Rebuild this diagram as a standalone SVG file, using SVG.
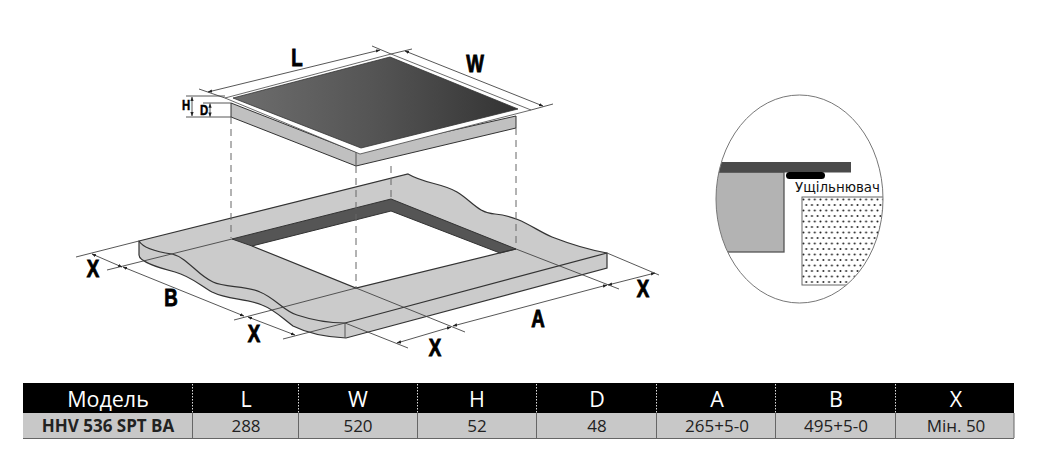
<svg xmlns="http://www.w3.org/2000/svg" width="1044" height="472" viewBox="0 0 1044 472">
<style>
.dim{fill:none;stroke:#444;stroke-width:.9}
.dash{fill:none;stroke:#666;stroke-width:1;stroke-dasharray:7 5}
.edge{fill:none;stroke:#333;stroke-width:1.2}
.big{font-family:"Liberation Sans",Arial,sans-serif;font-weight:700;font-size:24px;fill:#000;stroke:#000;stroke-width:.9;text-anchor:middle}
.sm{font-size:14.500px;stroke-width:.5}
.th{font-family:"Open Sans",sans-serif;font-size:21.500px;fill:#fff;text-anchor:middle}
.td{font-family:"Open Sans",sans-serif;font-size:17px;fill:#222;text-anchor:middle}
.sep{stroke:#666;stroke-width:1}
.sepw{stroke:#ddd;stroke-width:1;stroke-dasharray:1.5 1.5}
</style>
<defs>
<marker id="arr" viewBox="0 0 6 6" refX="5.5" refY="3" markerWidth="5" markerHeight="5" orient="auto-start-reverse"><path d="M0 .8L6 3L0 5.200z" fill="#222"/></marker>
<linearGradient id="glass" x1="0" y1="0" x2="1" y2="0"><stop offset="0" stop-color="#6e6e6e"/><stop offset=".5" stop-color="#545454"/><stop offset="1" stop-color="#333"/></linearGradient>
<pattern id="dots" width="5.700" height="11" patternUnits="userSpaceOnUse" x="802" y="197"><circle cx="1.400" cy="2.500" r="1" fill="#222"/><circle cx="4.250" cy="8" r="1" fill="#222"/></pattern>
<clipPath id="oval"><ellipse cx="799.500" cy="199" rx="83.500" ry="104"/></clipPath>
</defs>

<g id="counter">
<path fill="#cbcbcb" stroke="none" d="M139 241L408 174C425 184 442 183 457 192C472 201 478 213 495 214C520 216 535 230 552 237C570 244 590 250 607 253V268L346 338C325 337 305 332 293 326C282 318 275 310 262 305C245 298 228 300 212 292C200 285 190 276 175 272C160 268 139 262 139 255Z"/>
<path fill="#fff" d="M252 246L391 211L500 253L356 288Z"/>
<path fill="#555" stroke="#333" d="M232 239L391 199L516 249L500 253L391 211L252 246Z"/>
<path class="edge" d="M139 241L408 174C425 184 442 183 457 192C472 201 478 213 495 214C520 216 535 230 552 237C570 244 590 250 607 253V268L346 338C325 337 305 332 293 326C282 318 275 310 262 305C245 298 228 300 212 292C200 285 190 276 175 272C160 268 139 262 139 255Z"/>
<path class="edge" d="M139 241C143 248 158 252 172 254C188 258 197 275 213 282C225 288 245 285 260 292C275 298 285 312 297 315C312 320 330 323 345 323L607 253"/>
<path class="edge" d="M252 246L356 288L516 249"/>
<path d="M345 323V338" fill="none" stroke="#555"/>
</g>

<g id="hob">
<path fill="#c0c0c0" stroke="#333" d="M231 103V117L356 166L516 128V116L356 152Z"/>
<path d="M356 152V166" stroke="#555" fill="none"/>
<path fill="#fff" stroke="#444" stroke-width=".8" d="M225 98L391 54L531 110L360 154Z"/>
<path fill="url(#glass)" stroke="#333" stroke-width=".8" d="M233 98L390 57L518 109L361 148Z"/>
</g>

<g id="connectors">
<path class="dash" d="M231 117V238M356 166V288M391 166V200M516 128V248"/>
<path class="dim" d="M199 89L225 98M372 46L391 54M391 54L412 49M531 110L553 104"/>
<path class="dim" marker-start="url(#arr)" marker-end="url(#arr)" d="M208 92L380 50"/>
<path class="dim" marker-start="url(#arr)" marker-end="url(#arr)" d="M405 51L543 106"/>
<path class="dim" d="M186 96L225 96M186 117L231 117M203 103L231 103"/>
<path class="dim" marker-start="url(#arr)" marker-end="url(#arr)" d="M192 97V116"/>
<path class="dim" marker-start="url(#arr)" marker-end="url(#arr)" d="M210 103.500V116.500"/>
<path class="dim" d="M139 241L76 257M232 239L107 270M356 288L234 320M345 323L283 339"/>
<path class="dim" d="M516 249L619 289M356 288L465 332M607 253L659 275M345 323L408 348"/>
<path class="dim" marker-start="url(#arr)" marker-end="url(#arr)" d="M92 254L122 267"/>
<path class="dim" marker-start="url(#arr)" marker-end="url(#arr)" d="M123 267L244 316"/>
<path class="dim" marker-start="url(#arr)" marker-end="url(#arr)" d="M248 317L295 335"/>
<path class="dim" marker-start="url(#arr)" marker-end="url(#arr)" d="M397 343L451 327"/>
<path class="dim" marker-start="url(#arr)" marker-end="url(#arr)" d="M453 326L607 285"/>
<path class="dim" marker-start="url(#arr)" marker-end="url(#arr)" d="M608 285L655 273"/>
</g>

<g id="labels">
<text class="big" transform="translate(297 66) scale(.78 1)">L</text>
<text class="big" transform="translate(475 72) scale(.78 1)">W</text>
<text class="big sm" transform="translate(186 110) scale(.78 1)">H</text>
<text class="big sm" transform="translate(204 115) scale(.78 1)">D</text>
<text class="big" transform="translate(93 277) scale(.78 1)">X</text>
<text class="big" transform="translate(171 306) scale(.78 1)">B</text>
<text class="big" transform="translate(254 342) scale(.78 1)">X</text>
<text class="big" transform="translate(435 356) scale(.78 1)">X</text>
<text class="big" transform="translate(538 327) scale(.78 1)">A</text>
<text class="big" transform="translate(643 297) scale(.78 1)">X</text>
</g>

<g id="detail">
<g clip-path="url(#oval)">
<rect x="700" y="172" width="84" height="80" fill="#b3b3b3" stroke="#555" stroke-width="1.300"/>
<rect x="802" y="197" width="90" height="88" fill="#fff"/>
<rect x="802" y="197" width="90" height="88" fill="url(#dots)" stroke="#666"/>
<rect x="700" y="162" width="151" height="10.500" fill="#4a4a4a"/>
</g>
<rect x="786" y="172" width="39" height="7" rx="3.500" fill="#000"/>
<ellipse cx="799.500" cy="199" rx="83.500" ry="104" fill="none" stroke="#777" stroke-width="1"/>
<text x="795" y="192" font-family="DejaVu Sans,sans-serif" font-size="13.400px" fill="#111">Ущільнювач</text>
</g>

<g id="table">
<rect x="23" y="383" width="991" height="30" fill="#000"/>
<rect x="23" y="413" width="991" height="25" fill="#c8c8c8"/>
<path d="M23 438.500H1014" stroke="#666" stroke-width="1"/>
<path class="sepw" d="M192.500 384V413M298.500 384V413M417.500 384V413M536.500 384V413M656.500 384V413M775.500 384V413M895.500 384V413"/>
<path class="sep" d="M192.500 413V438M298.500 413V438M417.500 413V438M536.500 413V438M656.500 413V438M775.500 413V438M895.500 413V438M1014 413V438"/>
<text class="th" x="108" y="407">Модель</text>
<text class="th" x="246" y="407">L</text>
<text class="th" x="358" y="407">W</text>
<text class="th" x="477" y="407">H</text>
<text class="th" x="597" y="407">D</text>
<text class="th" x="717" y="407">A</text>
<text class="th" x="836" y="407">B</text>
<text class="th" x="956" y="407">X</text>
<text class="td" x="108" y="432" font-weight="700">HHV 536 SPT BA</text>
<text class="td" x="246" y="432">288</text>
<text class="td" x="358" y="432">520</text>
<text class="td" x="477" y="432">52</text>
<text class="td" x="597" y="432">48</text>
<text class="td" x="717" y="432">265+5-0</text>
<text class="td" x="836" y="432">495+5-0</text>
<text class="td" x="956" y="432">Мін. 50</text>
</g>
</svg>
